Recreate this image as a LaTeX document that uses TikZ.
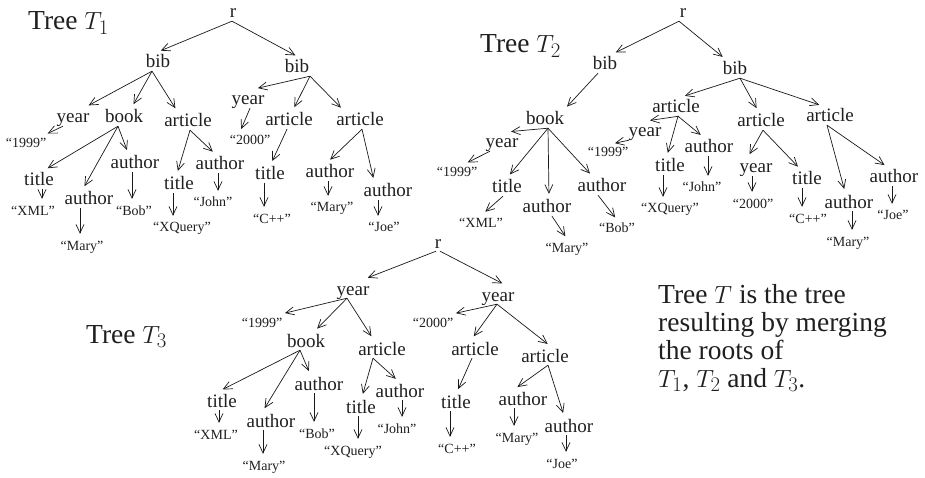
\documentclass[tikz,border=0pt]{standalone}
\usepackage{fontspec}
\setmainfont{Liberation Serif}
\usetikzlibrary{arrows.meta,calc}
\newcommand\dg[4]{\draw[arr] ([xshift=#3pt]#1.south) -- ([xshift=#4pt]#2.north);}
\newcommand\vg[3]{\draw[arr] ([xshift=#3pt]#1.south) -- ([xshift=#3pt]#1.south |- #2.north);}
\tikzset{
  lab/.style={font=\fontsize{19}{22}\selectfont, anchor=base, inner xsep=1pt, inner ysep=3pt, text height=13pt, text depth=0pt, text=black!88},
  val/.style={font=\fontsize{14}{16}\selectfont, anchor=base, inner xsep=1pt, inner ysep=3pt, text height=10pt, text depth=0pt, text=black!88},
  ttl/.style={font=\fontsize{27.5}{28}\selectfont, anchor=base west, inner sep=0pt, text=black!88},
  arr/.style={-{Straight Barb[length=8.5pt,width=8pt]}, line width=0.7pt, shorten >=3pt, draw=black!90}
}
\begin{document}
\begin{tikzpicture}[x=1pt,y=-1pt]
\useasboundingbox (0,0) rectangle (925,478);
% ---------------- Tree T1
\node[ttl] (aT) at (28,30) {Tree $T_1$};
\node[lab] (ar) at (233,18) {r};
\node[lab] (ab1) at (158,68) {bib};
\node[lab] (ab2) at (297,73) {bib};
\node[lab] (ay1) at (73,123) {year};
\node[lab] (abk) at (124,123) {book};
\node[lab] (aa1) at (188,127) {article};
\node[val] (av1999) at (26,148) {“1999”};
\node[lab] (at1) at (39,186) {title};
\node[lab] (aau1) at (89,205) {author};
\node[lab] (aau2) at (135,169) {author};
\node[val] (avxml) at (33,215) {“XML”};
\node[val] (avmary1) at (82,250) {“Mary”};
\node[val] (avbob) at (134,215) {“Bob”};
\node[lab] (at2) at (179,190) {title};
\node[lab] (aau3) at (220,170) {author};
\node[val] (avxq) at (182,232) {“XQuery”};
\node[val] (avjohn) at (213,207) {“John”};
\node[lab] (ay2) at (248,105) {year};
\node[lab] (aa2) at (289,126) {article};
\node[lab] (aa3) at (360,126) {article};
\node[val] (av2000) at (250,145) {“2000”};
\node[lab] (at3) at (270,180) {title};
\node[val] (avcpp) at (272,223) {“C++”};
\node[lab] (aau4) at (330,178) {author};
\node[lab] (aau5) at (388,197) {author};
\node[val] (avmary2) at (332,212) {“Mary”};
\node[val] (avjoe) at (384,232) {“Joe”};
\dg{ar}{ab1}{-1}{0}
\dg{ar}{ab2}{-1}{1}
\dg{ab1}{ay1}{-6}{13}
\dg{ab1}{abk}{-6}{8}
\dg{ab1}{aa1}{-6}{-11}
\dg{ay1}{av1999}{-10}{19}
\dg{abk}{at1}{-6}{6}
\dg{abk}{aau1}{-6}{-6}
\dg{abk}{aau2}{-6}{-7}
\vg{at1}{avxml}{3}
\vg{aau1}{avmary1}{-9}
\vg{aau2}{avbob}{-3}
\dg{aa1}{at2}{2}{-2}
\dg{aa1}{aau3}{2}{-5}
\vg{at2}{avxq}{-6}
\vg{aau3}{avjohn}{-2}
\dg{ab2}{ay2}{13}{7}
\dg{ab2}{aa2}{13}{4}
\dg{ab2}{aa3}{13}{-17}
\dg{ay2}{av2000}{2}{-10}
\dg{aa2}{at3}{-2}{1}
\vg{at3}{avcpp}{-6}
\dg{aa3}{aau4}{2}{-2}
\dg{aa3}{aau5}{2}{-14}
\vg{aau4}{avmary2}{-2}
\vg{aau5}{avjoe}{-10}
% ---------------- Tree T2
\node[ttl] (bT) at (480,53) {Tree $T_2$};
\node[lab] (br) at (683,18) {r};
\node[lab] (bb1) at (605,70) {bib};
\node[lab] (bb2) at (735,75) {bib};
\node[lab] (bbk) at (545,125) {book};
\node[lab] (ba1) at (676,113) {article};
\node[lab] (ba2) at (761,127) {article};
\node[lab] (ba3) at (830,122) {article};
\node[lab] (by1) at (502,148) {year};
\node[val] (bv1999a) at (457,177) {“1999”};
\node[lab] (bt1) at (507,193) {title};
\node[lab] (bau1) at (547,213) {author};
\node[lab] (bau2) at (602,192) {author};
\node[val] (bvxml) at (481,227) {“XML”};
\node[val] (bvmary1) at (567,252) {“Mary”};
\node[val] (bvbob) at (617,233) {“Bob”};
\node[lab] (by2) at (645,137) {year};
\node[val] (bv1999b) at (608,157) {“1999”};
\node[lab] (bt2) at (670,172) {title};
\node[lab] (bau3) at (709,153) {author};
\node[val] (bvxq) at (670,213) {“XQuery”};
\node[val] (bvjohn) at (702,192) {“John”};
\node[lab] (by3) at (756,173) {year};
\node[lab] (bt3) at (807,185) {title};
\node[val] (bv2000) at (753,208) {“2000”};
\node[val] (bvcpp) at (808,223) {“C++”};
\node[lab] (bau4) at (849,208) {author};
\node[lab] (bau5) at (894,183) {author};
\node[val] (bvmary2) at (848,246) {“Mary”};
\node[val] (bvjoe) at (893,220) {“Joe”};
\dg{br}{bb1}{-4}{8}
\dg{br}{bb2}{-4}{-10}
\dg{bb1}{bbk}{-7}{20}
\dg{bb2}{ba1}{5}{6}
\dg{bb2}{ba2}{5}{-3}
\dg{bb2}{ba3}{5}{-8}
\dg{bbk}{by1}{3}{6}
\dg{bbk}{bt1}{3}{1}
\dg{bbk}{bau1}{3}{2}
\dg{bbk}{bau2}{3}{-10}
\dg{by1}{bv1999a}{-12}{8}
\dg{bt1}{bvxml}{-4}{2}
\dg{bau1}{bvmary1}{5}{0}
\dg{bau2}{bvbob}{-4}{0}
\dg{ba1}{by2}{3}{2}
\dg{by2}{bv1999b}{-16}{4}
\dg{ba1}{bt2}{2}{-3}
\dg{ba1}{bau3}{2}{-6}
\vg{bt2}{bvxq}{-7}
\vg{bau3}{bvjohn}{-1}
\dg{ba2}{by3}{2}{-8}
\dg{ba2}{bt3}{2}{-7}
\vg{by3}{bv2000}{-4}
\vg{bt3}{bvcpp}{-5}
\dg{ba3}{bau4}{-3}{-4}
\dg{ba3}{bau5}{-3}{-7}
\vg{bau4}{bvmary2}{3}
\vg{bau5}{bvjoe}{-2}
% ---------------- Tree T3
\node[ttl] (cT) at (86,343) {Tree $T_3$};
\node[lab] (cr) at (438,248) {r};
\node[lab] (cy1) at (353,295) {year};
\node[lab] (cy2) at (498,301) {year};
\node[val] (cv1999) at (262,327) {“1999”};
\node[lab] (cbk) at (306,347) {book};
\node[lab] (ca1) at (382,355) {article};
\node[lab] (ct1) at (222,407) {title};
\node[lab] (cau1) at (271,427) {author};
\node[lab] (cau2) at (319,390) {author};
\node[val] (cvxml) at (216,439) {“XML”};
\node[val] (cvmary1) at (264,470) {“Mary”};
\node[val] (cvbob) at (317,438) {“Bob”};
\node[lab] (ct2) at (361,413) {title};
\node[lab] (cau3) at (400,397) {author};
\node[val] (cvxq) at (353,455) {“XQuery”};
\node[val] (cvjohn) at (397,433) {“John”};
\node[val] (cv2000) at (433,327) {“2000”};
\node[lab] (ca2) at (475,355) {article};
\node[lab] (ca3) at (545,362) {article};
\node[lab] (ct3) at (456,408) {title};
\node[val] (cvcpp) at (457,453) {“C++”};
\node[lab] (cau4) at (523,405) {author};
\node[lab] (cau5) at (569,432) {author};
\node[val] (cvmary2) at (517,442) {“Mary”};
\node[val] (cvjoe) at (562,468) {“Joe”};
\dg{cr}{cy1}{-2}{12}
\dg{cr}{cy2}{2}{7}
\dg{cy1}{cv1999}{-6}{20}
\dg{cy1}{cbk}{-6}{9}
\dg{cy1}{ca1}{-6}{-9}
\dg{cbk}{ct1}{-6}{-2}
\dg{cbk}{cau1}{-6}{-8}
\dg{cbk}{cau2}{-6}{-9}
\vg{ct1}{cvxml}{-3}
\vg{cau1}{cvmary1}{-8}
\vg{cau2}{cvbob}{-5}
\dg{ca1}{ct2}{-9}{1}
\dg{ca1}{cau3}{-9}{-2}
\vg{ct2}{cvxq}{-3}
\vg{cau3}{cvjohn}{2}
\dg{cy2}{cv2000}{-1}{20}
\dg{cy2}{ca2}{-1}{-3}
\dg{cy2}{ca3}{-1}{5}
\dg{ca2}{ct3}{-3}{1}
\vg{ct3}{cvcpp}{-6}
\dg{ca3}{cau4}{3}{-8}
\dg{ca3}{cau5}{3}{-5}
\vg{cau4}{cvmary2}{-9}
\vg{cau5}{cvjoe}{-3}
% ---------------- caption
\node[ttl, align=left] (cap) at (658,387) {Tree $T$ is the tree\\resulting by merging\\the roots of\\$T_1$, $T_2$ and $T_3$.};
\end{tikzpicture}
\end{document}
